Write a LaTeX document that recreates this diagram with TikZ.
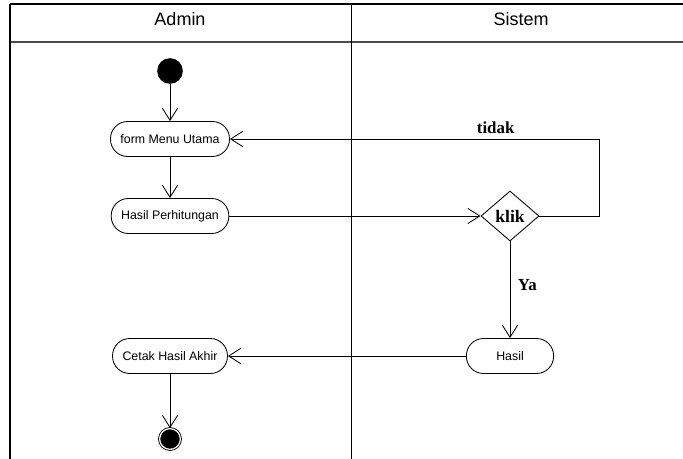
\documentclass[tikz,border=0pt]{standalone}
\usepackage{fontspec}
\setmainfont{Liberation Serif}
\setsansfont{Liberation Sans}
\usetikzlibrary{arrows.meta,shapes.geometric}
\tikzset{
  lane/.style={font=\sffamily\fontsize{12.8}{14}\selectfont},
  act/.style={draw, rounded corners=0.43cm, minimum height=0.875cm,
              inner xsep=0.25cm, font=\sffamily\fontsize{8.8}{10}\selectfont},
  startnode/.style={circle, fill=black, minimum size=0.64cm, inner sep=0pt},
  endnode/.style={circle, fill=black, draw, double=white, double distance=0.9pt,
                  minimum size=0.52cm, inner sep=0pt},
  decide/.style={draw, diamond, minimum width=1.45cm, minimum height=1.25cm,
                 inner sep=0pt, font=\bfseries\fontsize{12.5}{14}\selectfont},
  lbl/.style={font=\bfseries\fontsize{12}{14}\selectfont},
}

\begin{document}
\begin{tikzpicture}[x=0.025cm,y=-0.025cm,line width=0.6pt,
    >={Straight Barb[length=3mm,width=3.8mm]}]
    \useasboundingbox (0,0) rectangle (683,459);

    % swimlanes
    \draw[line width=1.3pt] (10,4) -- (683,4);
    \draw[black!70,line width=0.9pt] (10,42) -- (683,42);
    \draw[line width=1.3pt] (10,4) -- (10,459);
    \draw (351,4) -- (351,459);
    \node[lane] (admin) at (180,19) {Admin};
    \node[lane] (sistem) at (521,19) {Sistem};

    \node[startnode] (start) at (170,71) {};
    \node[act, minimum width=2.95cm] (form) at (170,139) {form Menu Utama};
    \node[act] (hitung) at (170,216) {Hasil Perhitungan};
    \node[decide] (klik) at (510,216) {klik};
    \node[act, minimum width=2.18cm] (hasil) at (510,356) {Hasil};
    \node[act] (cetak) at (170,356) {Cetak Hasil Akhir};
    \node[endnode] (end) at (170,439) {};
    \coordinate (back) at (599,139);

    \draw[->] (start) -- (form);
    \draw[->] (form) -- (hitung);
    \draw[->] (hitung) -- (klik);
    \draw[->] (klik.east) -| (back) -- node[lbl, above, pos=0.28] {tidak} (form.east);
    \draw[->] (klik) -- node[lbl, right, pos=0.45, xshift=2pt] {Ya} (hasil);
    \draw[->] (hasil) -- (cetak);
    \draw[->] (cetak) -- (end);

\end{tikzpicture}
\end{document}
